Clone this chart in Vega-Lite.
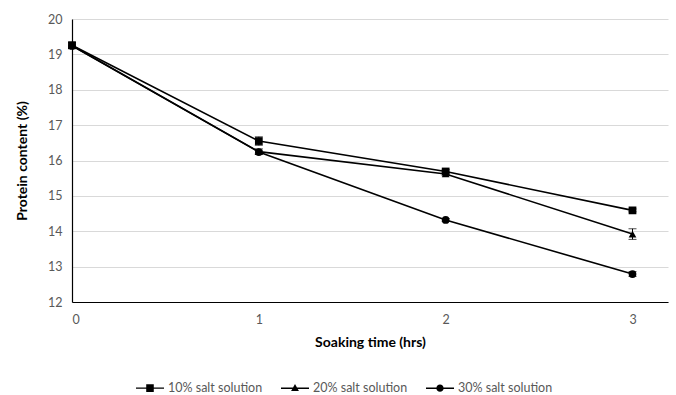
{
  "$schema": "https://vega.github.io/schema/vega-lite/v6.json",
  "width": 596,
  "height": 283,
  "autosize": {"type": "none"},
  "padding": {"left": 72, "top": 19, "right": 8, "bottom": 93},
  "background": "white",
  "config": {
    "font": "Lato",
    "view": {"stroke": null},
    "axis": {"labelFont": "Lato", "titleFont": "Lato", "labelColor": "#595959", "labelFontSize": 12.5, "titleFontSize": 14, "titleFontWeight": "bold", "titleColor": "#000000"}
  },
  "data": {
    "values": [
      {"series": "10% salt solution", "time": 0, "protein": 19.26, "err": 0.08},
      {"series": "10% salt solution", "time": 1, "protein": 16.55, "err": 0.12},
      {"series": "10% salt solution", "time": 2, "protein": 15.69, "err": 0.05},
      {"series": "10% salt solution", "time": 3, "protein": 14.59, "err": 0.04},
      {"series": "20% salt solution", "time": 0, "protein": 19.25, "err": 0.08},
      {"series": "20% salt solution", "time": 1, "protein": 16.25, "err": 0.08},
      {"series": "20% salt solution", "time": 2, "protein": 15.62, "err": 0.05},
      {"series": "20% salt solution", "time": 3, "protein": 13.92, "err": 0.15},
      {"series": "30% salt solution", "time": 0, "protein": 19.24, "err": 0.08},
      {"series": "30% salt solution", "time": 1, "protein": 16.24, "err": 0.05},
      {"series": "30% salt solution", "time": 2, "protein": 14.32, "err": 0.04},
      {"series": "30% salt solution", "time": 3, "protein": 12.79, "err": 0.07}
    ]
  },
  "encoding": {
    "x": {
      "field": "time", "type": "quantitative",
      "scale": {"domain": [0, 3.19], "nice": false, "zero": false},
      "axis": {"values": [0, 1, 2, 3], "grid": false, "ticks": false, "domainColor": "#000000", "domainWidth": 1.2, "labelPadding": 11, "titlePadding": 10, "title": "Soaking time (hrs)"}
    },
    "y": {
      "field": "protein", "type": "quantitative",
      "scale": {"domain": [12, 20], "nice": false, "zero": false},
      "axis": {"tickCount": 9, "tickMinStep": 1, "labelOverlap": false, "labelBound": false, "grid": true, "gridColor": "#d9d9d9", "ticks": false, "domainColor": "#000000", "domainWidth": 1.2, "labelPadding": 10, "titlePadding": 18, "title": "Protein content (%)"}
    }
  },
  "resolve": {"scale": {"shape": "independent"}},
  "layer": [
    {
      "mark": {"type": "line", "color": "#000000", "strokeWidth": 1.6},
      "encoding": {
        "detail": {"field": "series"}
      }
    },
    {
      "mark": {"type": "errorbar", "ticks": {"size": 8, "color": "#000000"}, "rule": {"color": "#000000", "strokeWidth": 1}},
      "encoding": {
        "yError": {"field": "err"},
        "detail": {"field": "series"}
      }
    },
    {
      "mark": {"type": "point", "filled": true, "opacity": 1, "color": "#000000", "size": 60},
      "encoding": {
        "shape": {
          "field": "series", "type": "nominal",
          "scale": {"range": ["square", "triangle-up", "circle"]},
          "legend": null
        }
      }
    },
    {
      "mark": {"type": "point", "filled": true, "color": "#000000", "opacity": 0, "size": 1},
      "encoding": {
        "shape": {
          "field": "series", "type": "nominal",
          "scale": {"range": ["M-1,-0.05H1V0.05H-1ZM-0.27,-0.27H0.27V0.27H-0.27Z", "M-1,-0.05H1V0.05H-1ZM0,-0.3L0.28,0.2L-0.28,0.2Z", "M-1,-0.05H1V0.05H-1ZM-0.26,0A0.26,0.26 0 1,1 0.26,0A0.26,0.26 0 1,1 -0.26,0Z"]},
          "legend": {
            "title": null,
            "orient": "none",
            "direction": "horizontal",
            "legendX": 63,
            "legendY": 354,
            "padding": 0,
            "symbolSize": 784,
            "symbolOpacity": 1,
            "symbolFillColor": "#000000",
            "labelFont": "Lato",
            "labelFontSize": 12.5,
            "labelColor": "#595959",
            "labelOffset": 3,
            "columnPadding": 15
          }
        }
      }
    }
  ]
}
